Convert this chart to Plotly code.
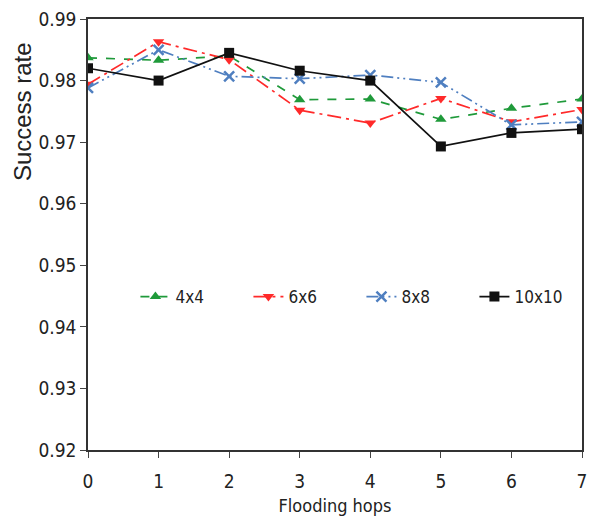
import plotly.graph_objects as go

hops = [0, 1, 2, 3, 4, 5, 6, 7]
s4x4 = [0.9837, 0.9833, 0.9840, 0.9769, 0.9770, 0.9737, 0.9755, 0.9770]
s6x6 = [0.9794, 0.9863, 0.9834, 0.9752, 0.9731, 0.9771, 0.9733, 0.9753]
s8x8 = [0.9788, 0.9850, 0.9807, 0.9803, 0.9809, 0.9797, 0.9728, 0.9733]
s10x10 = [0.9820, 0.9800, 0.9845, 0.9816, 0.9800, 0.9693, 0.9715, 0.9721]
y_ticks = [0.92, 0.93, 0.94, 0.95, 0.96, 0.97, 0.98, 0.99]

FONT = "Liberation Sans Narrow, DejaVu Sans Condensed, Arial Narrow, sans-serif"

series = [
    ("4x4", s4x4, "#1f9a3a", "dash", "triangle-up"),
    ("6x6", s6x6, "#ff2a2a", "14px,5px,3px,5px", "triangle-down"),
    ("8x8", s8x8, "#4f7fc0", "12px,4px,2px,4px,2px,4px", "x-thin"),
    ("10x10", s10x10, "#111111", "solid", "square"),
]

fig = go.Figure()
for name, vals, col, dash, sym in series:
    mk = dict(symbol=sym, size=10, color=col)
    if sym == "x-thin":
        mk = dict(symbol="x-thin", size=10, color=col, line=dict(color=col, width=2.5))
    fig.add_trace(go.Scatter(
        x=hops, y=vals, name=name, mode="lines+markers",
        line=dict(color=col, width=1.7, dash=dash),
        marker=mk,
    ))

fig.add_annotation(
    text="Success rate", textangle=-90, showarrow=False,
    xref="paper", yref="paper", x=-0.1336, y=0.784,
    xanchor="center", yanchor="middle",
    font=dict(size=24, family="Liberation Sans, Arial, sans-serif", color="#222222"),
)

fig.update_layout(
    width=599, height=522,
    margin=dict(l=88, r=17, t=19, b=72, autoexpand=False),
    paper_bgcolor="white", plot_bgcolor="white",
    font=dict(family=FONT, size=18, color="#222222"),
    showlegend=True,
    legend=dict(
        orientation="h", x=0.096, y=0.355, xanchor="left", yanchor="middle",
        bgcolor="rgba(0,0,0,0)", font=dict(size=17, family=FONT),
        entrywidth=68, entrywidthmode="pixels",
    ),
    xaxis=dict(
        range=[0, 7], tickvals=hops, ticks="outside", ticklen=6,
        ticklabelstandoff=7,
        showline=True, linecolor="#333333", linewidth=1.5, mirror=True,
        showgrid=False, zeroline=False,
        title=dict(text="Flooding hops", font=dict(size=18, family=FONT), standoff=9),
        tickfont=dict(size=19, family=FONT),
    ),
    yaxis=dict(
        range=[0.92, 0.99], tickvals=y_ticks,
        ticktext=[f"{v:.2f}" for v in y_ticks],
        ticks="outside", ticklen=6,
        showline=True, linecolor="#333333", linewidth=1.5, mirror=True,
        showgrid=False, zeroline=False,
        tickfont=dict(size=19, family=FONT),
    ),
)

fig.write_html("out.html")
